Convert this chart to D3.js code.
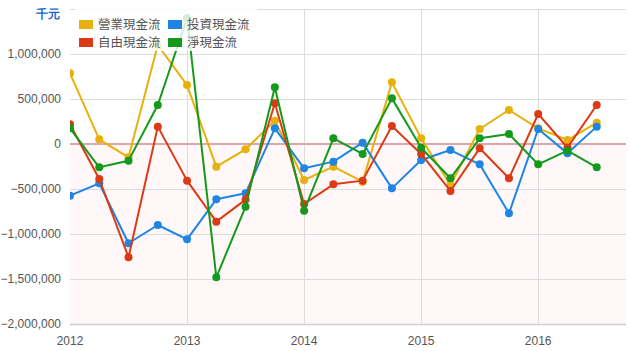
<!DOCTYPE html>
<html>
<head>
<meta charset="utf-8">
<script src="https://cdn.jsdelivr.net/npm/d3@7"></script>
<style>
  body { margin: 0; background: #fff; }
  text { font-family: "Liberation Sans", Arial, sans-serif; }
</style>
</head>
<body>
<div id="chart"></div>
<script>
// quarterly cash flows (thousand NTD), 2012Q1 .. 2016Q3
var quarters = [2012, 2012.25, 2012.5, 2012.75, 2013, 2013.25, 2013.5, 2013.75,
  2014, 2014.25, 2014.5, 2014.75, 2015, 2015.25, 2015.5, 2015.75, 2016, 2016.25, 2016.5];

var operating = [785000, 52000, -148000, 1100000, 655000, -252000, -59000, 259000,
  -400000, -252000, -419000, 685000, 63000, -456000, 167000, 378000, 174000, 44000, 237000];
var investing = [-574000, -437000, -1103000, -900000, -1059000, -615000, -548000, 174000,
  -270000, -196000, 15000, -493000, -178000, -67000, -226000, -770000, 167000, -104000, 193000];
var free = [219000, -389000, -1259000, 193000, -407000, -863000, -618000, 452000,
  -667000, -448000, -407000, 200000, -111000, -522000, -48000, -381000, 333000, -40000, 433000];
var net = [174000, -259000, -185000, 433000, 1400000, -1481000, -696000, 630000,
  -741000, 63000, -111000, 507000, -41000, -381000, 63000, 111000, -226000, -74000, -259000];

var seriesNames = ["營業現金流", "投資現金流", "自由現金流", "淨現金流"];
var yearTicks = [2012, 2013, 2014, 2015, 2016];
var valueTicks = [1000000, 500000, 0, -500000, -1000000, -1500000, -2000000];
var gridTicks = [1500000, 1000000, 500000, 0, -500000, -1000000, -1500000, -2000000];
var unitLabel = "千元";

var colors = ["#e8b00a", "#1e85e2", "#dc3a14", "#139a1b"];

var width = 630, height = 351;
var margin = {top: 9, right: 4, bottom: 27, left: 70};

var svg = d3.select("#chart").append("svg")
  .attr("width", width)
  .attr("height", height);

var x = d3.scaleLinear()
  .domain([2012, 2016.75])
  .range([margin.left, width - margin.right]);

var y = d3.scaleLinear()
  .domain([-2000000, 1500000])
  .range([height - margin.bottom, margin.top]);

svg.append("defs").append("clipPath")
  .attr("id", "clip")
  .append("rect")
  .attr("x", margin.left)
  .attr("y", margin.top)
  .attr("width", x.range()[1] - margin.left)
  .attr("height", y(-2000000) - margin.top);

// below zero shading
svg.append("rect")
  .attr("x", margin.left)
  .attr("y", y(0))
  .attr("width", x.range()[1] - margin.left)
  .attr("height", y(-2000000) - y(0))
  .attr("fill", "#fff7f8");

// grid
svg.append("g")
  .selectAll("line")
  .data(gridTicks)
  .join("line")
  .attr("x1", margin.left)
  .attr("x2", x.range()[1])
  .attr("y1", d => Math.round(y(d)) + 0.5)
  .attr("y2", d => Math.round(y(d)) + 0.5)
  .attr("stroke", d => d == -2000000 ? "#cfcfcf" : "#dcdcdc")
  .attr("stroke-width", d => d == -2000000 ? 1.5 : 1);

svg.append("g")
  .selectAll("line")
  .data(yearTicks.slice(1))
  .join("line")
  .attr("x1", d => Math.round(x(d)) + 0.5)
  .attr("x2", d => Math.round(x(d)) + 0.5)
  .attr("y1", margin.top)
  .attr("y2", y(-2000000))
  .attr("stroke", "#dcdcdc");

// zero line
svg.append("line")
  .attr("x1", margin.left)
  .attr("x2", x.range()[1])
  .attr("y1", y(0))
  .attr("y2", y(0))
  .attr("stroke", "#e3a3ab")
  .attr("stroke-width", 2);

// y tick labels
svg.append("g")
  .selectAll("text")
  .data(valueTicks)
  .join("text")
  .attr("x", 61)
  .attr("y", d => y(d) + 4)
  .attr("text-anchor", "end")
  .style("font-size", "12px")
  .style("fill", "#555")
  .text(d => d3.format(",")(d));

// x tick labels
svg.append("g")
  .selectAll("text")
  .data(yearTicks)
  .join("text")
  .attr("x", d => x(d))
  .attr("y", 345)
  .attr("text-anchor", "middle")
  .style("font-size", "12px")
  .style("fill", "#555")
  .text(d => d);

svg.append("text")
  .attr("x", 60)
  .attr("y", 18)
  .attr("text-anchor", "end")
  .style("font-size", "12px")
  .style("font-weight", "bold")
  .style("fill", "#1a66c8")
  .text(unitLabel);

// lines
var data = [operating, investing, free, net];
var line = d3.line()
  .x((d, i) => x(quarters[i]))
  .y(d => y(d));

var plot = svg.append("g").attr("clip-path", "url(#clip)");

data.forEach(function (vals, k) {
  plot.append("path")
    .datum(vals)
    .attr("fill", "none")
    .attr("stroke", colors[k])
    .attr("stroke-width", 2)
    .attr("stroke-linejoin", "round")
    .attr("d", line);
  plot.append("g")
    .selectAll("circle")
    .data(vals)
    .join("circle")
    .attr("cx", (d, i) => x(quarters[i]))
    .attr("cy", d => y(d))
    .attr("r", 4)
    .attr("fill", colors[k]);
});

// legend
var legend = svg.append("g");
legend.append("rect")
  .attr("x", 75)
  .attr("y", 9)
  .attr("width", 182)
  .attr("height", 42)
  .attr("fill", "#fff")
  .attr("fill-opacity", 0.82);

var legendPos = [[79, 20], [168, 20], [79, 38], [168, 38]];
seriesNames.forEach(function (name, k) {
  legend.append("rect")
    .attr("x", legendPos[k][0])
    .attr("y", legendPos[k][1])
    .attr("width", 14)
    .attr("height", 9)
    .attr("fill", colors[k]);
  legend.append("text")
    .attr("x", legendPos[k][0] + 19)
    .attr("y", legendPos[k][1] + 9)
    .style("font-family", "'Noto Sans CJK TC', sans-serif")
    .style("font-size", "12.5px")
    .style("fill", "#555")
    .text(name);
});
</script>
</body>
</html>
